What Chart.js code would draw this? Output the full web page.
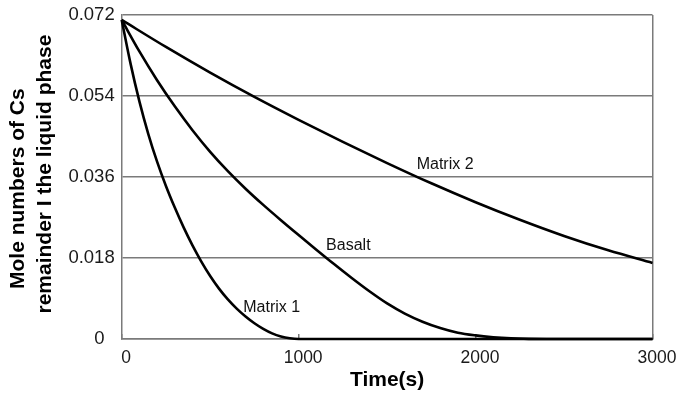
<!DOCTYPE html>
<html><head><meta charset="utf-8">
<script src="https://cdn.jsdelivr.net/npm/chart.js@4/dist/chart.umd.min.js"></script>
<style>html,body{margin:0;padding:0;background:#fff;}canvas{display:block;}</style>
</head><body>
<canvas id="c" width="681" height="397"></canvas>
<script>
// ---- data ----
const timeMatrix1   = [0, 50, 100, 150, 200, 250, 300, 350, 400, 450, 500, 550, 600, 650, 700, 750, 800, 850, 900, 950, 1000, 1500, 2000, 2500, 3000];
const valuesMatrix1 = [0.0709, 0.0612, 0.0528, 0.0456, 0.0394, 0.0340, 0.0292, 0.0248, 0.0208, 0.0172, 0.0140, 0.0112, 0.0088, 0.00675, 0.0050, 0.0035, 0.00225, 0.00125, 0.00055, 0.00015, 0, 0, 0, 0, 0];

const timeBasalt   = [0, 100, 200, 300, 400, 500, 600, 700, 800, 900, 1000, 1100, 1200, 1300, 1400, 1500, 1600, 1700, 1800, 1900, 2000, 2100, 2200, 2300, 2400, 2700, 3000];
const valuesBasalt = [0.0709, 0.0639, 0.0575, 0.0517, 0.0464, 0.0416, 0.0373, 0.0334, 0.0298, 0.0264, 0.0231, 0.01985, 0.01665, 0.01355, 0.0106, 0.0079, 0.00565, 0.00385, 0.00245, 0.0014, 0.0008, 0.0004, 0.00015, 0.00003, 0, 0, 0];

const timeMatrix2   = [0, 250, 500, 750, 1000, 1250, 1500, 1750, 2000, 2250, 2500, 2750, 3000];
const valuesMatrix2 = [0.0709, 0.0649, 0.0592, 0.0538, 0.0487, 0.0438, 0.0391, 0.0346, 0.0304, 0.0265, 0.0229, 0.0197, 0.0169];

const seriesNames = ['Matrix 1', 'Basalt', 'Matrix 2'];

const xTickValues = [0, 1000, 2000, 3000];
const xTickLabels = ['0', '1000', '2000', '3000'];
const yTickValues = [0, 0.018, 0.036, 0.054, 0.072];
const yTickLabels = ['0  ', '0.018', '0.036', '0.054', '0.072'];

const xTitle = 'Time(s)';
const yTitle = ['Mole numbers of Cs    ', ' remainder I the liquid phase'];

// curve labels placed at data coordinates
const curveLabelText = ['Matrix 2', 'Basalt', 'Matrix 1'];
const curveLabelTime = [1828, 1281, 848];
const curveLabelValue = [0.0388, 0.0207, 0.0070];

// ---- chart ----
const FONT = "'Liberation Sans', Arial, Helvetica, sans-serif";
const GRID = '#7a7a7a';

function pts(xs, ys) { return xs.map((x, i) => ({x: x, y: ys[i]})); }

const curveLabels = {
  id: 'curveLabels',
  afterDatasetsDraw(chart) {
    const ctx = chart.ctx, xs = chart.scales.x, ys = chart.scales.y;
    ctx.save();
    ctx.font = '16px ' + FONT;
    ctx.fillStyle = '#111';
    ctx.textAlign = 'center';
    ctx.textBaseline = 'middle';
    curveLabelText.forEach((t, i) => {
      ctx.fillText(t, xs.getPixelForValue(curveLabelTime[i]), ys.getPixelForValue(curveLabelValue[i]));
    });
    ctx.restore();
  }
};

const ds = (label, xs, ys) => ({
  label: label,
  data: pts(xs, ys),
  borderColor: '#000',
  borderWidth: 2.6,
  pointRadius: 0,
  fill: false,
  cubicInterpolationMode: 'monotone',
  clip: false
});

new Chart(document.getElementById('c'), {
  type: 'line',
  data: {
    datasets: [
      ds(seriesNames[0], timeMatrix1, valuesMatrix1),
      ds(seriesNames[1], timeBasalt, valuesBasalt),
      ds(seriesNames[2], timeMatrix2, valuesMatrix2)
    ]
  },
  options: {
    responsive: false,
    animation: false,
    devicePixelRatio: 1,
    layout: {padding: {left: 0, right: 28.5, top: 15, bottom: 0}},
    plugins: {legend: {display: false}, tooltip: {enabled: false}},
    scales: {
      x: {
        type: 'linear',
        min: 0, max: 3000,
        afterBuildTicks: s => { s.ticks = xTickValues.map(v => ({value: v})); },
        afterFit: s => { s.height = 58; s.paddingLeft = 0; s.paddingRight = 0; },
        grid: {
          color: c => (c.tick && c.tick.value === 3000) ? GRID : 'rgba(0,0,0,0)',
          tickColor: GRID,
          lineWidth: 1.5,
          tickLength: -5,
          drawTicks: true
        },
        border: {display: true, color: GRID, width: 1.5},
        ticks: {
          autoSkip: false, maxRotation: 0,
          padding: 13.5, labelOffset: 4.5,
          color: '#1a1a1a',
          font: {family: FONT, size: 17.5},
          callback: (v, i) => xTickLabels[i]
        },
        title: {
          display: true, text: xTitle, color: '#000',
          font: {family: FONT, size: 21, weight: 'bold', lineHeight: 1.2},
          padding: {top: 0, bottom: 4.4}
        }
      },
      y: {
        type: 'linear',
        min: 0, max: 0.072,
        afterBuildTicks: s => { s.ticks = yTickValues.map(v => ({value: v})); },
        afterFit: s => { s.width = 121.7; s.paddingTop = 0; s.paddingBottom = 0; },
        grid: {color: GRID, lineWidth: 1.5, drawTicks: false},
        border: {display: true, color: GRID, width: 1.5},
        ticks: {
          padding: 7,
          color: '#1a1a1a',
          font: {family: FONT, size: 18.5},
          callback: (v, i) => yTickLabels[i]
        },
        title: {
          display: true, text: yTitle, color: '#000',
          font: {family: FONT, size: 21, weight: 'bold', lineHeight: 1.3},
          padding: {top: 4.35, bottom: 0}
        }
      }
    }
  },
  plugins: [curveLabels]
});
</script>
</body></html>
